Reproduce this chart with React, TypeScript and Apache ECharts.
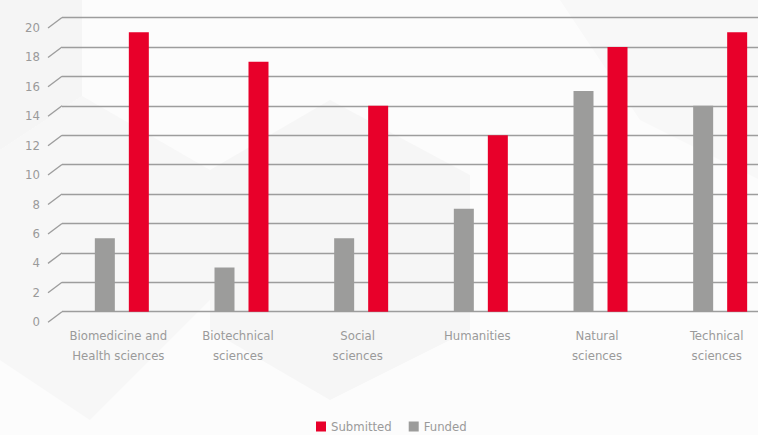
import React, { useEffect, useRef } from "react";
import * as echarts from "echarts";

const categories = [
  "Biomedicine and\nHealth sciences",
  "Biotechnical\nsciences",
  "Social\nsciences",
  "Humanities",
  "Natural\nsciences",
  "Technical\nsciences",
];
const submitted = [19, 17, 14, 12, 18, 19];
const funded = [5, 3, 5, 7, 15, 14];
const yTicks = [0, 2, 4, 6, 8, 10, 12, 14, 16, 18, 20];

const FONT = "'Liberation Sans Narrow', 'DejaVu Sans Condensed', 'Roboto', sans-serif";
const RED = "#E8002A";
const GRAY = "#9C9C9B";
const TEXT = "#9A9A9A";
const LINE = "#9d9d9d";

const background = [
  { type: "polygon", silent: true, z: -10, shape: { points: [[0, 0], [82, 0], [82, 96], [0, 150]] }, style: { fill: "#f5f5f5" } },
  { type: "polygon", silent: true, z: -10, shape: { points: [[0, 150], [82, 96], [210, 170], [210, 300], [90, 420], [0, 360]] }, style: { fill: "#f7f7f7" } },
  { type: "polygon", silent: true, z: -10, shape: { points: [[210, 170], [330, 100], [470, 175], [470, 330], [330, 400], [210, 330]] }, style: { fill: "#f6f6f6" } },
  { type: "polygon", silent: true, z: -10, shape: { points: [[560, 0], [800, 0], [800, 200], [640, 120]] }, style: { fill: "#f8f8f8" } },
];

export default function App() {
  const ref = useRef<HTMLDivElement>(null);
  useEffect(() => {
    if (!ref.current) return;
    const chart = echarts.init(ref.current, undefined, { renderer: "svg" });
    chart.setOption({
      animation: false,
      backgroundColor: "#fcfcfc",
      textStyle: { fontFamily: FONT },
      graphic: background,
      legend: {
        data: ["Submitted", "Funded"],
        left: 316,
        top: 420,
        padding: 0,
        icon: "rect",
        itemWidth: 10,
        itemHeight: 10,
        itemGap: 17,
        textStyle: { color: TEXT, fontSize: 13, fontFamily: FONT },
      },
      grid: { left: 62, width: 718, top: 17.5, height: 294.2, containLabel: false },
      xAxis: {
        type: "category",
        data: categories,
        axisLine: { show: false },
        axisTick: { show: false },
        axisLabel: {
          color: TEXT,
          fontSize: 13,
          fontFamily: FONT,
          lineHeight: 20,
          margin: 14,
          interval: 0,
          padding: [0, 7, 0, 0],
        },
      },
      yAxis: {
        type: "value",
        min: 0,
        max: 20,
        interval: 2,
        axisLine: { show: false },
        axisTick: { show: false },
        splitLine: { show: true, lineStyle: { color: LINE, width: 1.3 } },
        axisLabel: {
          color: TEXT,
          fontSize: 13,
          fontFamily: FONT,
          margin: 22,
          verticalAlign: "top",
          lineHeight: 20,
        },
      },
      series: [
        {
          name: "Funded",
          type: "bar",
          data: funded,
          barWidth: 20,
          barGap: "70%",
          itemStyle: { color: GRAY },
        },
        {
          name: "Submitted",
          type: "bar",
          data: submitted,
          barWidth: 20,
          barGap: "70%",
          itemStyle: { color: RED },
        },
      ],
    });
    // diagonal depth stubs at each y tick, positioned through the axis scale
    const x0 = 62;
    const stubs = yTicks.map((v) => {
      const y = chart.convertToPixel({ yAxisIndex: 0 }, v) as number;
      return {
        type: "line",
        silent: true,
        z: 5,
        shape: { x1: x0 - 14, y1: y + 10.5, x2: x0, y2: y },
        style: { stroke: LINE, lineWidth: 1.3 },
      };
    });
    chart.setOption({ graphic: [...background, ...stubs] });
    return () => chart.dispose();
  }, []);
  return (
    <div style={{ position: "fixed", left: 0, top: 0, width: 758, height: 435, overflow: "hidden" }}>
      <div ref={ref} style={{ width: 800, height: 435 }} />
    </div>
  );
}
